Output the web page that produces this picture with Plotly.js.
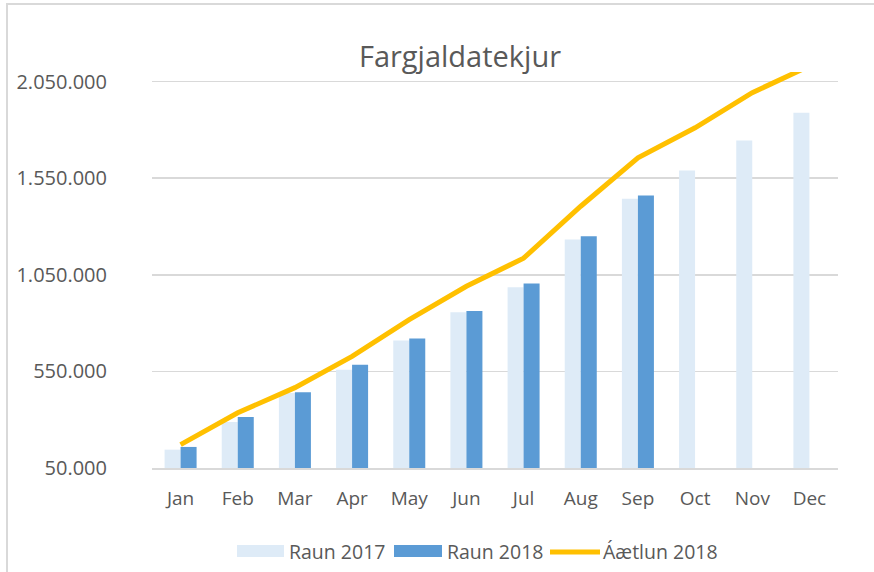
<!DOCTYPE html>
<html>
<head>
<meta charset="utf-8">
<script src="https://cdn.plot.ly/plotly-3.0.1.min.js"></script>
<style>
  html, body { margin: 0; padding: 0; background: #ffffff; }
  #wrap { position: relative; width: 874px; height: 572px; overflow: hidden; }
  #chart { position: absolute; left: 0; top: 0; width: 874px; height: 572px; }
  #frame { position: absolute; left: 6px; top: 3px; width: 880px; height: 600px;
           border-left: 2px solid #d9d9d9; border-top: 2px solid #d9d9d9; pointer-events: none; }
</style>
</head>
<body>
<div id="wrap">
  <div id="chart"></div>
  <div id="frame"></div>
</div>
<script>
// ---- data ----
const months = ["Jan", "Feb", "Mar", "Apr", "May", "Jun", "Jul", "Aug", "Sep", "Oct", "Nov", "Dec"];
const raun2017 = [145000, 288000, 438000, 559000, 710000, 856000, 986000, 1233000, 1444000, 1590000, 1746000, 1889000];
const raun2018 = [159000, 314000, 442000, 584000, 720000, 863000, 1005000, 1250000, 1461000, null, null, null];
const aetlun2018 = [171000, 336000, 466000, 628000, 818000, 991000, 1136000, 1405000, 1656000, 1811000, 1993000, 2131000];
const seriesNames = ["Raun 2017", "Raun 2018", "Áætlun 2018"];
const chartTitle = "Fargjaldatekjur";

// ---- style ----
const cLight = "#DEEBF7", cDark = "#5B9BD5", cLine = "#FFC000";
const textColor = "#595959", gridColor = "#D9D9D9";
const FONT = "Open Sans, Liberation Sans, sans-serif";

const W = 874, H = 572, ML = 152, MR = 36, MT = 72, MB = 104;
const PW = W - ML - MR, PH = H - MT - MB;
const px = x => (x - ML) / PW;          // pixel -> paper x
const py = y => (H - MB - y) / PH;      // pixel -> paper y

const traces = [
  { type: "bar", name: seriesNames[0], x: months, y: raun2017, marker: { color: cLight }, showlegend: false, hoverinfo: "x+y" },
  { type: "bar", name: seriesNames[1], x: months, y: raun2018, marker: { color: cDark }, showlegend: false, hoverinfo: "x+y" },
  { type: "scatter", mode: "lines", name: seriesNames[2], x: months, y: aetlun2018,
    line: { color: cLine, width: 5, shape: "linear" }, showlegend: false, hoverinfo: "x+y" }
];

// manual legend (wide swatches as in the reference)
const legY = 551;
const shapes = [
  { type: "rect", xref: "paper", yref: "paper", x0: px(237), x1: px(284), y0: py(legY + 6), y1: py(legY - 6), fillcolor: cLight, line: { width: 0 } },
  { type: "rect", xref: "paper", yref: "paper", x0: px(394), x1: px(442), y0: py(legY + 6), y1: py(legY - 6), fillcolor: cDark, line: { width: 0 } },
  { type: "line", xref: "paper", yref: "paper", x0: px(550), x1: px(600), y0: py(legY + 1), y1: py(legY + 1), line: { color: cLine, width: 5 } }
];
const legFont = { family: FONT, size: 19.5, color: textColor };
const annotations = [
  { xref: "paper", yref: "paper", x: px(287), y: py(legY), xanchor: "left", yanchor: "middle", text: seriesNames[0], showarrow: false, font: legFont },
  { xref: "paper", yref: "paper", x: px(445), y: py(legY), xanchor: "left", yanchor: "middle", text: seriesNames[1], showarrow: false, font: legFont },
  { xref: "paper", yref: "paper", x: px(601), y: py(legY), xanchor: "left", yanchor: "middle", text: seriesNames[2], showarrow: false, font: legFont }
];

const layout = {
  width: W, height: H,
  margin: { l: ML, r: MR, t: MT, b: MB, pad: 0 },
  paper_bgcolor: "#ffffff", plot_bgcolor: "#ffffff",
  separators: ",.",
  font: { family: FONT, color: textColor, size: 19 },
  title: { text: chartTitle, font: { family: FONT, size: 29, color: textColor },
           x: 460 / W, xanchor: "center", y: 1 - 57 / H, yanchor: "middle", xref: "container", yref: "container" },
  barmode: "group", bargap: 0.44, bargroupgap: 0,
  showlegend: false,
  xaxis: {
    type: "category", showgrid: false, zeroline: false,
    showline: true, linecolor: gridColor, linewidth: 2,
    ticks: "outside", ticklen: 12, tickcolor: "rgba(0,0,0,0)",
    tickfont: { family: FONT, size: 19, color: textColor }, fixedrange: true
  },
  yaxis: {
    range: [50000, 2100000], tick0: 50000, dtick: 500000, tickformat: ",d",
    showgrid: true, gridcolor: gridColor, gridwidth: 1.5, zeroline: false, showline: false,
    ticks: "outside", ticklen: 40, tickcolor: "rgba(0,0,0,0)",
    tickfont: { family: FONT, size: 20, color: textColor }, fixedrange: true
  },
  shapes: shapes,
  annotations: annotations
};

Plotly.newPlot("chart", traces, layout, { displayModeBar: false, staticPlot: true });
</script>
</body>
</html>
